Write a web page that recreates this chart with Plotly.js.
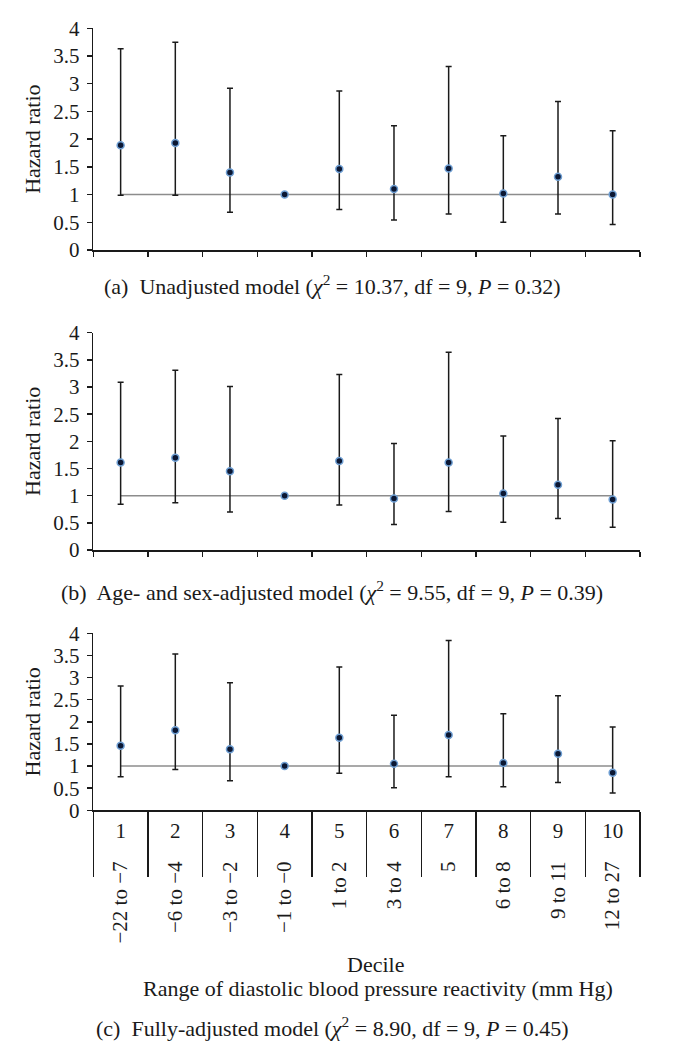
<!DOCTYPE html>
<html>
<head>
<meta charset="utf-8">
<script src="https://cdn.plot.ly/plotly-3.0.1.min.js"></script>
<style>
  html, body { margin: 0; padding: 0; background: #fff; }
  #chart { width: 693px; height: 1055px; }
</style>
</head>
<body>
<div id="chart"></div>
<script>
// decile categories and their DBP reactivity ranges
const deciles = [1, 2, 3, 4, 5, 6, 7, 8, 9, 10];
const rangeLabels = ['\u221222 to \u22127', '\u22126 to \u22124', '\u22123 to \u22122', '\u22121 to \u22120',
  '1 to 2', '3 to 4', '5', '6 to 8', '9 to 11', '12 to 27'];
const refHR = 1;

// (a) unadjusted
const hrA = [1.89, 1.93, 1.40, 1.00, 1.46, 1.10, 1.47, 1.02, 1.32, 1.00];
const upA = [3.63, 3.75, 2.92, 1.00, 2.87, 2.24, 3.31, 2.06, 2.68, 2.15];
const loA = [0.99, 0.99, 0.68, 1.00, 0.73, 0.54, 0.65, 0.50, 0.65, 0.46];

// (b) age- and sex-adjusted
const hrB = [1.61, 1.70, 1.45, 1.00, 1.64, 0.95, 1.61, 1.04, 1.20, 0.93];
const upB = [3.09, 3.31, 3.01, 1.00, 3.23, 1.96, 3.64, 2.10, 2.42, 2.01];
const loB = [0.84, 0.87, 0.70, 1.00, 0.83, 0.47, 0.71, 0.51, 0.58, 0.42];

// (c) fully adjusted
const hrC = [1.46, 1.81, 1.38, 1.00, 1.64, 1.05, 1.70, 1.07, 1.28, 0.85];
const upC = [2.81, 3.53, 2.88, 1.00, 3.24, 2.15, 3.84, 2.18, 2.59, 1.88];
const loC = [0.76, 0.92, 0.67, 1.00, 0.84, 0.51, 0.76, 0.53, 0.63, 0.39];

const captions = [
  '(a)  Unadjusted model (<i>\u03c7</i><sup>2</sup> = 10.37, df = 9, <i>P</i> = 0.32)',
  '(b)  Age- and sex-adjusted model (<i>\u03c7</i><sup>2</sup> = 9.55, df = 9, <i>P</i> = 0.39)',
  '(c)  Fully-adjusted model (<i>\u03c7</i><sup>2</sup> = 8.90, df = 9, <i>P</i> = 0.45)'
];

const FONT = 'Liberation Serif, Times New Roman, serif';
const FS = 21;
const CAP_FS = 22;
const INK = '#1a1a1a';
const W = 693, H = 1055;
const px = v => v / W;
const py = v => 1 - v / H;

const boundaries = deciles.map(d => d - 0.5).concat([deciles[deciles.length - 1] + 0.5]);
const xRange = [boundaries[0], boundaries[boundaries.length - 1]];
const xDomain = [px(93.3), px(640)];

function panel(hr, up, lo, xa, ya) {
  return {
    x: deciles,
    y: hr,
    xaxis: xa,
    yaxis: ya,
    type: 'scatter',
    mode: 'markers',
    marker: { size: 7, color: '#0b1733', line: { color: '#6f9fd3', width: 1.5 } },
    error_y: {
      type: 'data',
      symmetric: false,
      array: up.map((u, i) => u - hr[i]),
      arrayminus: lo.map((l, i) => hr[i] - l),
      color: INK,
      thickness: 1.5,
      width: 3
    },
    hoverinfo: 'x+y',
    showlegend: false
  };
}

// empty traces so the overlaid label axes get drawn
function labelHolder(xa) {
  return {
    x: deciles, y: deciles.map(() => null), xaxis: xa, yaxis: 'y3',
    type: 'scatter', mode: 'markers', hoverinfo: 'skip', showlegend: false
  };
}

const data = [
  panel(hrA, upA, loA, 'x', 'y'),
  panel(hrB, upB, loB, 'x2', 'y2'),
  panel(hrC, upC, loC, 'x3', 'y3'),
  labelHolder('x4'),
  labelHolder('x5')
];

function yAx(top, bottom) {
  return {
    domain: [py(bottom), py(top)],
    range: [0, 4],
    dtick: 0.5,
    tick0: 0,
    ticks: 'outside',
    ticklen: 5,
    tickwidth: 1.5,
    tickcolor: INK,
    showline: true,
    linecolor: INK,
    linewidth: 1.5,
    showgrid: false,
    zeroline: false,
    ticklabelstandoff: 3,
    tickfont: { family: FONT, size: FS, color: INK },
    title: { text: 'Hazard ratio', standoff: 6, font: { family: FONT, size: CAP_FS, color: INK } }
  };
}

function xAx(anchor, len) {
  return {
    domain: xDomain,
    anchor: anchor,
    range: xRange,
    tickmode: 'array',
    tickvals: boundaries,
    showticklabels: false,
    ticks: 'outside',
    ticklen: len,
    tickwidth: 1.5,
    tickcolor: INK,
    showline: true,
    linecolor: INK,
    linewidth: 1.5,
    showgrid: false,
    zeroline: false
  };
}

function labelAx(text, angle, standoff) {
  return {
    domain: xDomain, anchor: 'y3', overlaying: 'x3', range: xRange,
    tickmode: 'array', tickvals: deciles, ticktext: text, tickangle: angle,
    ticks: '', showline: false, showgrid: false, zeroline: false,
    ticklabelstandoff: standoff,
    tickfont: { family: FONT, size: FS, color: INK }
  };
}

const shapes = ['x', 'x2', 'x3'].map((xa, i) => ({
  type: 'line',
  xref: xa,
  yref: ['y', 'y2', 'y3'][i],
  x0: deciles[0],
  x1: deciles[deciles.length - 1],
  y0: refHR,
  y1: refHR,
  layer: 'below',
  line: { color: '#8c8c8c', width: 1.5 }
}));

const annotations = [
  { text: captions[0], x: px(332), y: py(285) },
  { text: captions[1], x: px(332), y: py(591) },
  { text: captions[2], x: px(332), y: py(1027) },
  { text: 'Decile', x: px(375), y: py(964) },
  { text: 'Range of diastolic blood pressure reactivity (mm Hg)', x: px(378), y: py(988) }
].map(a => Object.assign({
  xref: 'paper', yref: 'paper', xanchor: 'center', yanchor: 'middle',
  showarrow: false, font: { family: FONT, size: CAP_FS, color: INK }
}, a));

const layout = {
  width: W,
  height: H,
  margin: { l: 0, r: 0, t: 0, b: 0 },
  paper_bgcolor: '#fff',
  plot_bgcolor: 'rgba(0,0,0,0)',
  showlegend: false,
  xaxis: xAx('y', 5),
  xaxis2: xAx('y2', 5),
  xaxis3: xAx('y3', 65),
  xaxis4: labelAx(deciles.map(String), 0, 6),
  xaxis5: labelAx(rangeLabels, -90, 46),
  yaxis: yAx(28.3, 250),
  yaxis2: yAx(332.7, 550),
  yaxis3: yAx(633.3, 810.3),
  shapes: shapes,
  annotations: annotations
};

Plotly.newPlot('chart', data, layout, { displayModeBar: false, staticPlot: true });
</script>
</body>
</html>
